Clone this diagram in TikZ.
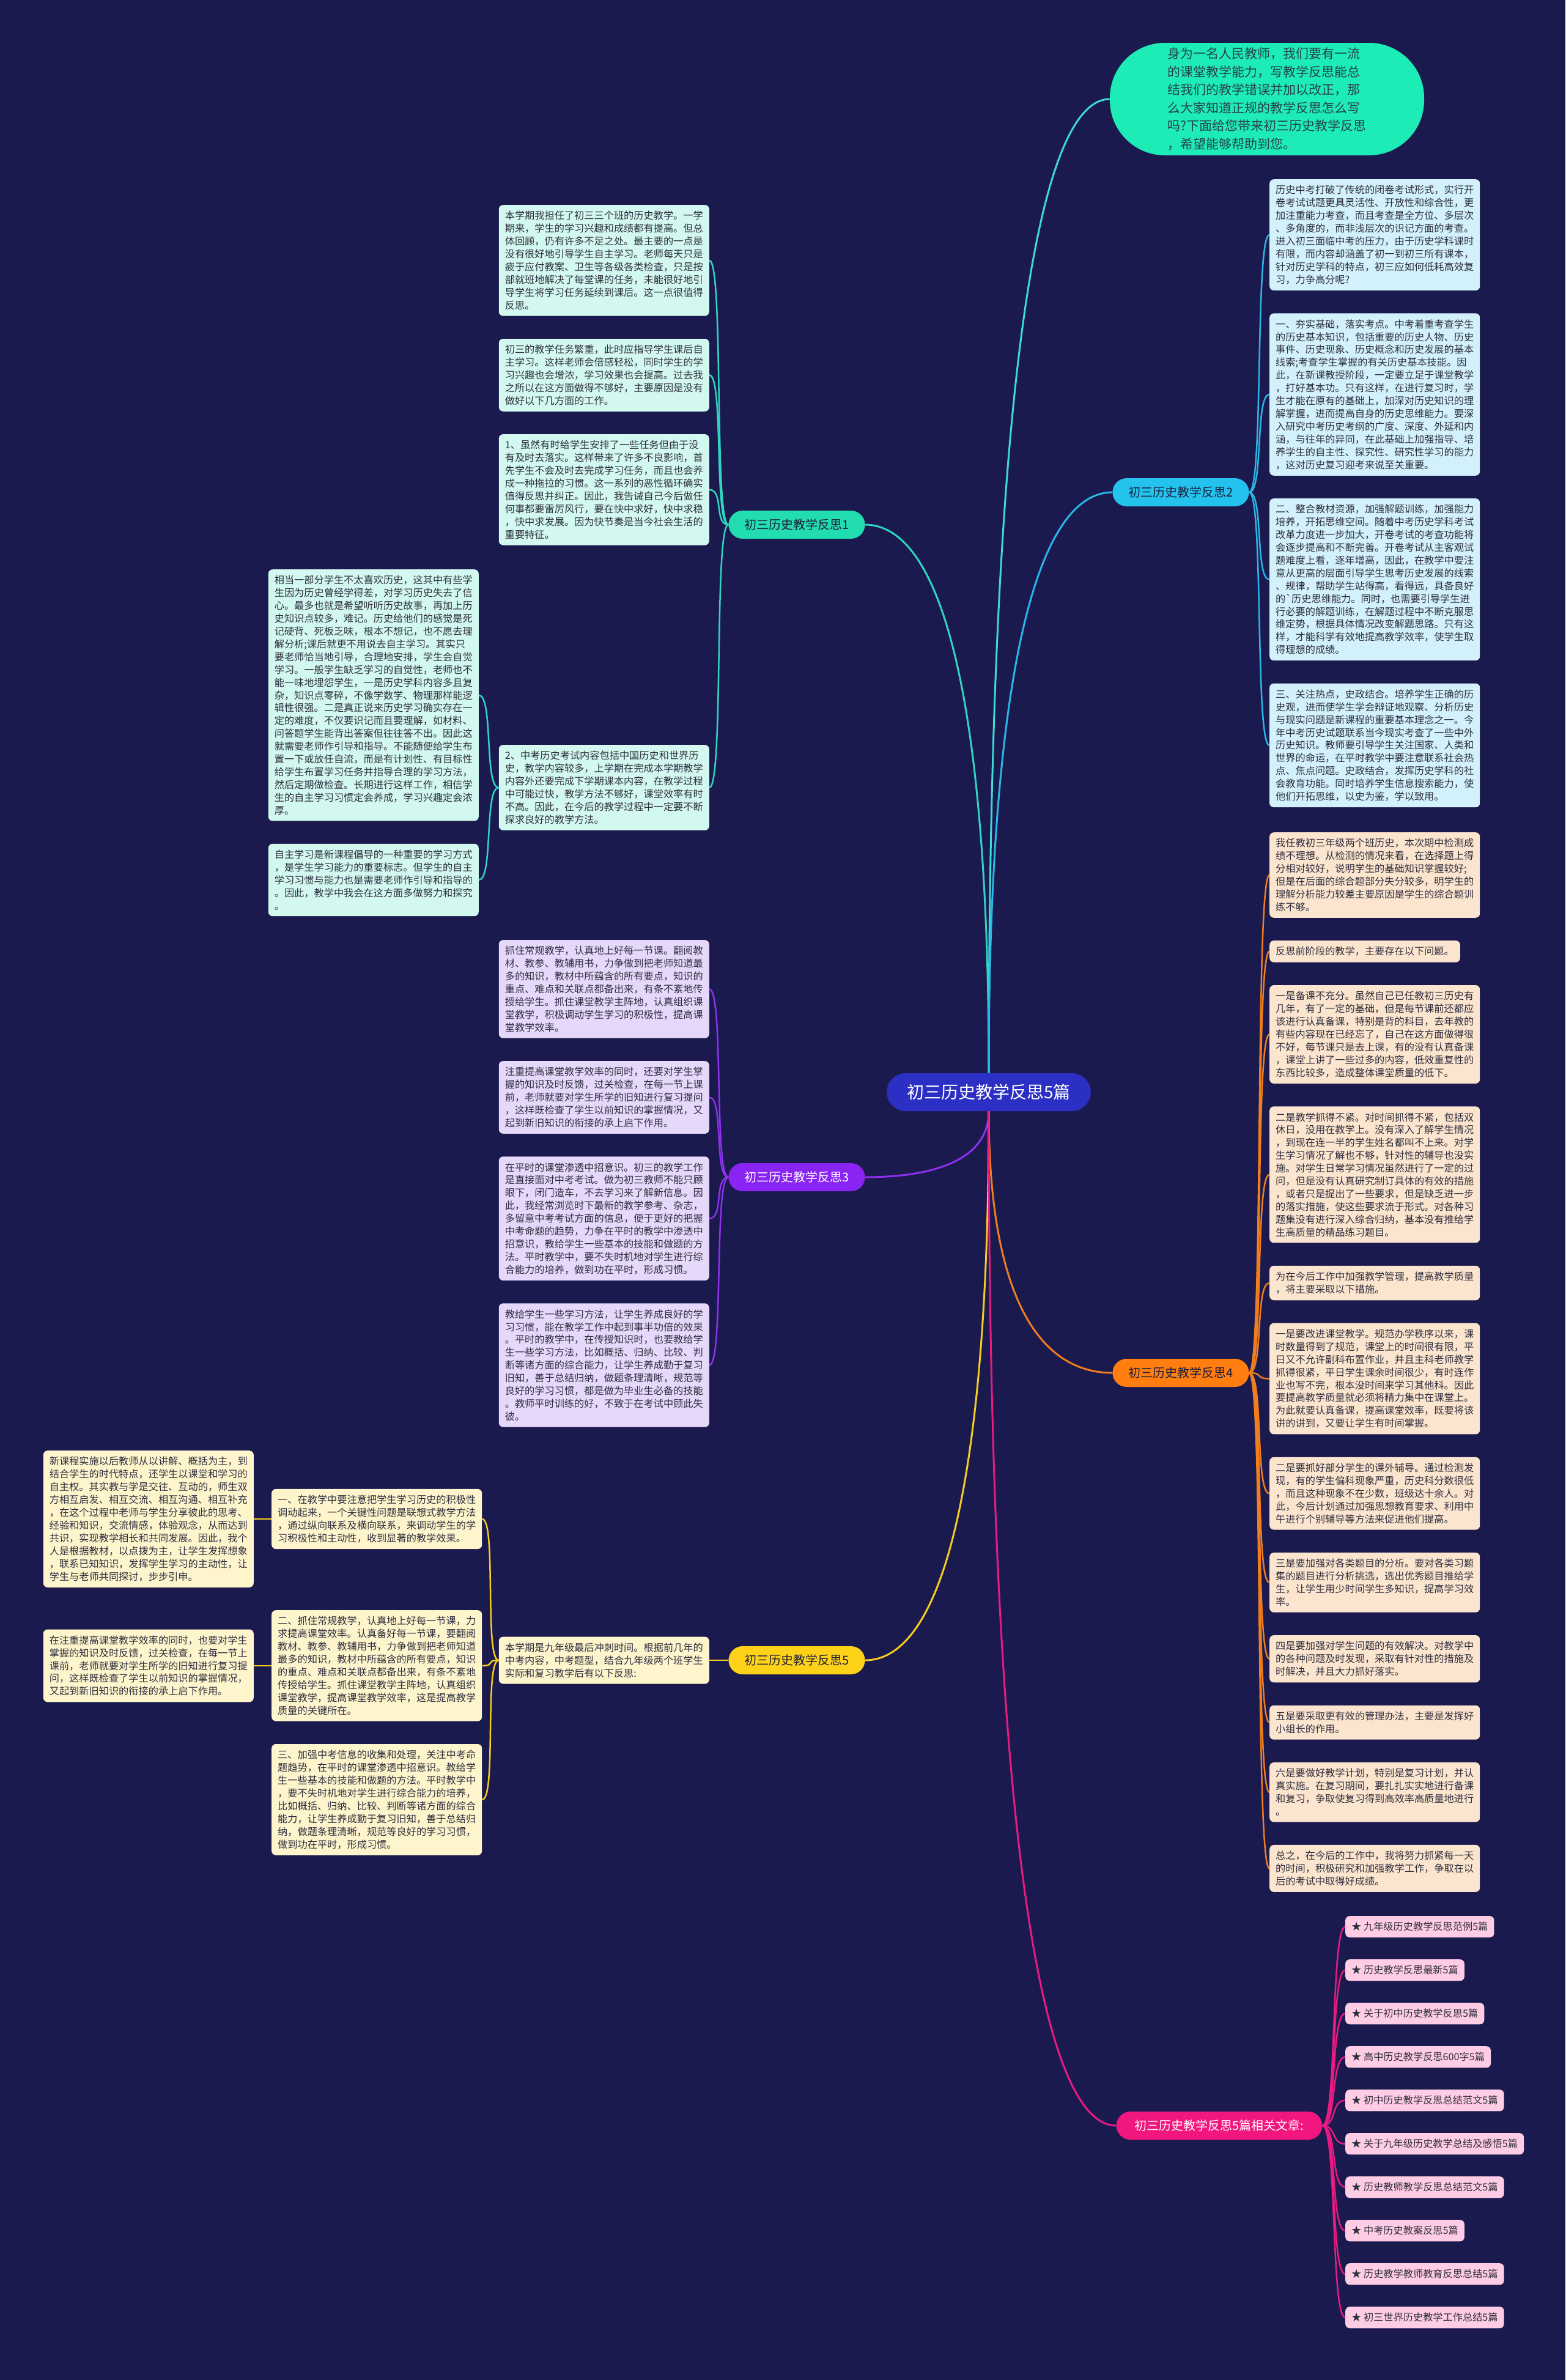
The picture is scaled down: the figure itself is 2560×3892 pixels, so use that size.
\documentclass[tikz,border=0pt]{standalone}
\usepackage{fontspec}
\setmainfont{Noto Sans CJK SC}
\usetikzlibrary{positioning,calc}
\definecolor{rfNavy} {HTML}{1B1A4F}
\definecolor{rfHub}  {HTML}{2B2FC4}
\definecolor{rfTip}  {HTML}{1EECB7}
\definecolor{rfTipInk}{HTML}{27414A}
\definecolor{rfInk}  {HTML}{2E2E3E}
\definecolor{rfDark} {HTML}{1E1E3C}
\definecolor{rfOne}  {HTML}{22DDB0}
\definecolor{rfTwo}  {HTML}{23C3EE}
\definecolor{rfThree}{HTML}{8A24F2}
\definecolor{rfFour} {HTML}{FF7E0F}
\definecolor{rfFive} {HTML}{FFD21A}
\definecolor{rfRel}  {HTML}{F2167F}
\definecolor{lnTip}  {HTML}{3DD9D6}
\definecolor{lnOne}  {HTML}{30D5C0}
\definecolor{lnTwo}  {HTML}{2AB6E6}
\definecolor{lnThree}{HTML}{8E30F0}
\definecolor{lnFour} {HTML}{F07E1E}
\definecolor{lnFive} {HTML}{F5CC1F}
\definecolor{lnRel}  {HTML}{E91A80}
\definecolor{fillOne}  {HTML}{D2F8F0}
\definecolor{fillTwo}  {HTML}{D2F1FA}
\definecolor{fillThree}{HTML}{E6D8FA}
\definecolor{fillFour} {HTML}{FCE5CE}
\definecolor{fillFive} {HTML}{FFF5CD}
\definecolor{fillRel}  {HTML}{FFCCE5}
\newcommand{\mapstem}[3]{%
  \path (#2|-#3) coordinate (knee);
  \draw[stemline,#1] (#2) .. controls ($(#2)!0.7!(knee)$) and ($(#3)!0.6!(knee)$) .. (#3);}
\newcommand{\twigleft}[3]{\draw[twigline,#1] (#2.west) .. controls +(-24,0) and +(24,0) .. (#3.east);}
\newcommand{\twigright}[3]{\draw[twigline,#1] (#2.east) .. controls +(24,0) and +(-24,0) .. (#3.west);}

\begin{document}
\begin{tikzpicture}[x=1pt,y=-1pt,
  card/.style={rounded corners=7pt,inner xsep=10pt,inner ysep=10pt,align=left,
    text=rfInk,font=\fontsize{16.2}{20.9}\selectfont},
  pill/.style={rounded corners=23pt,minimum height=46pt,inner xsep=26pt,inner ysep=0pt,
    text=rfDark,font=\fontsize{20}{24}\selectfont},
  stemline/.style={line width=3pt},
  twigline/.style={line width=2.5pt}]
  \useasboundingbox (0,0) rectangle (2560,3892);
  \fill[rfNavy] (0,0) rectangle (2560,3892);

  % centre and intro bubble
  \node[pill,fill=rfHub,text=white,rounded corners=31pt,minimum height=62pt,inner xsep=33pt,
        font=\fontsize{28}{32}\selectfont] (hub) at (1617,1786) {初三历史教学反思5篇};
  \node[fill=rfTip,text=rfTipInk,rounded corners=90pt,minimum width=514pt,minimum height=184pt,
        align=left,font=\fontsize{21}{29.5}\selectfont] (tip) at (2072,162) {身为一名人民教师，我们要有一流\\
    的课堂教学能力，写教学反思能总\\
    结我们的教学错误并加以改正，那\\
    么大家知道正规的教学反思怎么写\\
    吗?下面给您带来初三历史教学反思\\
    ，希望能够帮助到您。};

  % branch labels
  \node[pill,fill=rfOne] (one) at (1303,858) {初三历史教学反思1};
  \node[pill,fill=rfTwo] (two) at (1931,805) {初三历史教学反思2};
  \node[pill,fill=rfThree,text=white] (three) at (1303,1925) {初三历史教学反思3};
  \node[pill,fill=rfFour] (four) at (1931,2245) {初三历史教学反思4};
  \node[pill,fill=rfFive] (five) at (1303,2715) {初三历史教学反思5};
  \node[pill,fill=rfRel,text=white,inner xsep=30pt] (rel) at (1994,3476) {初三历史教学反思5篇相关文章:};

  % branch 1
  \node[card,fill=fillOne,anchor=north east] (l1a) at (1160,335) {本学期我担任了初三三个班的历史教学。一学\\
    期来，学生的学习兴趣和成绩都有提高。但总\\
    体回顾，仍有许多不足之处。最主要的一点是\\
    没有很好地引导学生自主学习。老师每天只是\\
    疲于应付教案、卫生等各级各类检查，只是按\\
    部就班地解决了每堂课的任务，未能很好地引\\
    导学生将学习任务延续到课后。这一点很值得\\
    反思。};
  \node[card,fill=fillOne,below=37pt of l1a.south east,anchor=north east] (l1b) {初三的教学任务繁重，此时应指导学生课后自\\
    主学习。这样老师会倍感轻松，同时学生的学\\
    习兴趣也会增浓，学习效果也会提高。过去我\\
    之所以在这方面做得不够好，主要原因是没有\\
    做好以下几方面的工作。};
  \node[card,fill=fillOne,below=37pt of l1b.south east,anchor=north east] (l1c) {1、虽然有时给学生安排了一些任务但由于没\\
    有及时去落实。这样带来了许多不良影响，首\\
    先学生不会及时去完成学习任务，而且也会养\\
    成一种拖拉的习惯。这一系列的恶性循环确实\\
    值得反思并纠正。因此，我告诫自己今后做任\\
    何事都要雷厉风行，要在快中求好，快中求稳\\
    ，快中求发展。因为快节奏是当今社会生活的\\
    重要特征。};
  \node[card,fill=fillOne,anchor=north east] (l1e) at (783,931) {相当一部分学生不太喜欢历史，这其中有些学\\
    生因为历史曾经学得差，对学习历史失去了信\\
    心。最多也就是希望听听历史故事，再加上历\\
    史知识点较多，难记。历史给他们的感觉是死\\
    记硬背、死板乏味，根本不想记，也不愿去理\\
    解分析;课后就更不用说去自主学习。其实只\\
    要老师恰当地引导，合理地安排，学生会自觉\\
    学习。一般学生缺乏学习的自觉性，老师也不\\
    能一味地埋怨学生，一是历史学科内容多且复\\
    杂，知识点零碎，不像学数学、物理那样能逻\\
    辑性很强。二是真正说来历史学习确实存在一\\
    定的难度，不仅要识记而且要理解，如材料、\\
    问答题学生能背出答案但往往答不出。因此这\\
    就需要老师作引导和指导。不能随便给学生布\\
    置一下或放任自流，而是有计划性、有目标性\\
    给学生布置学习任务并指导合理的学习方法，\\
    然后定期做检查。长期进行这样工作，相信学\\
    生的自主学习习惯定会养成，学习兴趣定会浓\\
    厚。};
  \node[card,fill=fillOne,below=37pt of l1e.south east,anchor=north east] (l1f) {自主学习是新课程倡导的一种重要的学习方式\\
    ，是学生学习能力的重要标志。但学生的自主\\
    学习习惯与能力也是需要老师作引导和指导的\\
    。因此，教学中我会在这方面多做努力和探究\\
    。};
  \node[card,fill=fillOne,anchor=east] (l1d) at ($(l1e.east)!0.5!(l1f.east)+(377,0)$) {2、中考历史考试内容包括中国历史和世界历\\
    史，教学内容较多，上学期在完成本学期教学\\
    内容外还要完成下学期课本内容，在教学过程\\
    中可能过快，教学方法不够好，课堂效率有时\\
    不高。因此，在今后的教学过程中一定要不断\\
    探求良好的教学方法。};

  % branch 2
  \node[card,fill=fillTwo,anchor=north west] (r2a) at (2076,293) {历史中考打破了传统的闭卷考试形式，实行开\\
    卷考试试题更具灵活性、开放性和综合性，更\\
    加注重能力考查，而且考查是全方位、多层次\\
    、多角度的，而非浅层次的识记方面的考查。\\
    进入初三面临中考的压力，由于历史学科课时\\
    有限，而内容却涵盖了初一到初三所有课本，\\
    针对历史学科的特点，初三应如何低耗高效复\\
    习，力争高分呢?};
  \node[card,fill=fillTwo,below=37pt of r2a.south west,anchor=north west] (r2b) {一、夯实基础，落实考点。中考着重考查学生\\
    的历史基本知识，包括重要的历史人物、历史\\
    事件、历史现象、历史概念和历史发展的基本\\
    线索;考查学生掌握的有关历史基本技能。因\\
    此，在新课教授阶段，一定要立足于课堂教学\\
    ，打好基本功。只有这样，在进行复习时，学\\
    生才能在原有的基础上，加深对历史知识的理\\
    解掌握，进而提高自身的历史思维能力。要深\\
    入研究中考历史考纲的广度、深度、外延和内\\
    涵，与往年的异同，在此基础上加强指导、培\\
    养学生的自主性、探究性、研究性学习的能力\\
    ，这对历史复习迎考来说至关重要。};
  \node[card,fill=fillTwo,below=37pt of r2b.south west,anchor=north west] (r2c) {二、整合教材资源，加强解题训练，加强能力\\
    培养，开拓思维空间。随着中考历史学科考试\\
    改革力度进一步加大，开卷考试的考查功能将\\
    会逐步提高和不断完善。开卷考试从主客观试\\
    题难度上看，逐年增高，因此，在教学中要注\\
    意从更高的层面引导学生思考历史发展的线索\\
    、规律，帮助学生站得高，看得远，具备良好\\
    的\textasciigrave 历史思维能力。同时，也需要引导学生进\\
    行必要的解题训练，在解题过程中不断克服思\\
    维定势，根据具体情况改变解题思路。只有这\\
    样，才能科学有效地提高教学效率，使学生取\\
    得理想的成绩。};
  \node[card,fill=fillTwo,below=37pt of r2c.south west,anchor=north west] (r2d) {三、关注热点，史政结合。培养学生正确的历\\
    史观，进而使学生学会辩证地观察、分析历史\\
    与现实问题是新课程的重要基本理念之一。今\\
    年中考历史试题联系当今现实考查了一些中外\\
    历史知识。教师要引导学生关注国家、人类和\\
    世界的命运，在平时教学中要注意联系社会热\\
    点、焦点问题。史政结合，发挥历史学科的社\\
    会教育功能。同时培养学生信息搜索能力，使\\
    他们开拓思维，以史为鉴，学以致用。};

  % branch 3
  \node[card,fill=fillThree,anchor=north east] (l3a) at (1160,1537) {抓住常规教学，认真地上好每一节课。翻阅教\\
    材、教参、教辅用书，力争做到把老师知道最\\
    多的知识，教材中所蕴含的所有要点，知识的\\
    重点、难点和关联点都备出来，有条不紊地传\\
    授给学生。抓住课堂教学主阵地，认真组织课\\
    堂教学，积极调动学生学习的积极性，提高课\\
    堂教学效率。};
  \node[card,fill=fillThree,below=37pt of l3a.south east,anchor=north east] (l3b) {注重提高课堂教学效率的同时，还要对学生掌\\
    握的知识及时反馈，过关检查，在每一节上课\\
    前，老师就要对学生所学的旧知进行复习提问\\
    ，这样既检查了学生以前知识的掌握情况，又\\
    起到新旧知识的衔接的承上启下作用。};
  \node[card,fill=fillThree,below=37pt of l3b.south east,anchor=north east] (l3c) {在平时的课堂渗透中招意识。初三的教学工作\\
    是直接面对中考考试。做为初三教师不能只顾\\
    眼下，闭门造车，不去学习来了解新信息。因\\
    此，我经常浏览时下最新的教学参考、杂志，\\
    多留意中考考试方面的信息，便于更好的把握\\
    中考命题的趋势，力争在平时的教学中渗透中\\
    招意识，教给学生一些基本的技能和做题的方\\
    法。平时教学中，要不失时机地对学生进行综\\
    合能力的培养，做到功在平时，形成习惯。};
  \node[card,fill=fillThree,below=37pt of l3c.south east,anchor=north east] (l3d) {教给学生一些学习方法，让学生养成良好的学\\
    习习惯，能在教学工作中起到事半功倍的效果\\
    。平时的教学中，在传授知识时，也要教给学\\
    生一些学习方法，比如概括、归纳、比较、判\\
    断等诸方面的综合能力，让学生养成勤于复习\\
    旧知，善于总结归纳，做题条理清晰，规范等\\
    良好的学习习惯，都是做为毕业生必备的技能\\
    。教师平时训练的好，不致于在考试中顾此失\\
    彼。};

  % branch 4
  \node[card,fill=fillFour,anchor=north west] (r4a) at (2076,1361) {我任教初三年级两个班历史，本次期中检测成\\
    绩不理想。从检测的情况来看，在选择题上得\\
    分相对较好，说明学生的基础知识掌握较好;\\
    但是在后面的综合题部分失分较多，明学生的\\
    理解分析能力较差主要原因是学生的综合题训\\
    练不够。};
  \node[card,fill=fillFour,below=37pt of r4a.south west,anchor=north west] (r4b) {反思前阶段的教学，主要存在以下问题。};
  \node[card,fill=fillFour,below=37pt of r4b.south west,anchor=north west] (r4c) {一是备课不充分。虽然自己已任教初三历史有\\
    几年，有了一定的基础，但是每节课前还都应\\
    该进行认真备课，特别是背的科目，去年教的\\
    有些内容现在已经忘了，自己在这方面做得很\\
    不好，每节课只是去上课，有的没有认真备课\\
    ，课堂上讲了一些过多的内容，低效重复性的\\
    东西比较多，造成整体课堂质量的低下。};
  \node[card,fill=fillFour,below=37pt of r4c.south west,anchor=north west] (r4d) {二是教学抓得不紧。对时间抓得不紧，包括双\\
    休日，没用在教学上。没有深入了解学生情况\\
    ，到现在连一半的学生姓名都叫不上来。对学\\
    生学习情况了解也不够，针对性的辅导也没实\\
    施。对学生日常学习情况虽然进行了一定的过\\
    问，但是没有认真研究制订具体的有效的措施\\
    ，或者只是提出了一些要求，但是缺乏进一步\\
    的落实措施，使这些要求流于形式。对各种习\\
    题集没有进行深入综合归纳，基本没有推给学\\
    生高质量的精品练习题目。};
  \node[card,fill=fillFour,below=37pt of r4d.south west,anchor=north west] (r4e) {为在今后工作中加强教学管理，提高教学质量\\
    ，将主要采取以下措施。};
  \node[card,fill=fillFour,below=37pt of r4e.south west,anchor=north west] (r4f) {一是要改进课堂教学。规范办学秩序以来，课\\
    时数量得到了规范，课堂上的时间很有限，平\\
    日又不允许副科布置作业，并且主科老师教学\\
    抓得很紧，平日学生课余时间很少，有时连作\\
    业也写不完，根本没时间来学习其他科。因此\\
    要提高教学质量就必须将精力集中在课堂上。\\
    为此就要认真备课，提高课堂效率，既要将该\\
    讲的讲到，又要让学生有时间掌握。};
  \node[card,fill=fillFour,below=37pt of r4f.south west,anchor=north west] (r4g) {二是要抓好部分学生的课外辅导。通过检测发\\
    现，有的学生偏科现象严重，历史科分数很低\\
    ，而且这种现象不在少数，班级达十余人。对\\
    此，今后计划通过加强思想教育要求、利用中\\
    午进行个别辅导等方法来促进他们提高。};
  \node[card,fill=fillFour,below=37pt of r4g.south west,anchor=north west] (r4h) {三是要加强对各类题目的分析。要对各类习题\\
    集的题目进行分析挑选，选出优秀题目推给学\\
    生，让学生用少时间学生多知识，提高学习效\\
    率。};
  \node[card,fill=fillFour,below=37pt of r4h.south west,anchor=north west] (r4i) {四是要加强对学生问题的有效解决。对教学中\\
    的各种问题及时发现，采取有针对性的措施及\\
    时解决，并且大力抓好落实。};
  \node[card,fill=fillFour,below=37pt of r4i.south west,anchor=north west] (r4j) {五是要采取更有效的管理办法，主要是发挥好\\
    小组长的作用。};
  \node[card,fill=fillFour,below=37pt of r4j.south west,anchor=north west] (r4k) {六是要做好教学计划，特别是复习计划，并认\\
    真实施。在复习期间，要扎扎实实地进行备课\\
    和复习，争取使复习得到高效率高质量地进行\\
    。};
  \node[card,fill=fillFour,below=37pt of r4k.south west,anchor=north west] (r4l) {总之，在今后的工作中，我将努力抓紧每一天\\
    的时间，积极研究和加强教学工作，争取在以\\
    后的考试中取得好成绩。};

  % branch 5
  \node[card,fill=fillFive,anchor=east] (l5a) at (1160,2715) {本学期是九年级最后冲刺时间。根据前几年的\\
    中考内容，中考题型，结合九年级两个班学生\\
    实际和复习教学后有以下反思:};
  \node[card,fill=fillFive,anchor=north east] (l5e) at (415,2372) {新课程实施以后教师从以讲解、概括为主，到\\
    结合学生的时代特点，还学生以课堂和学习的\\
    自主权。其实教与学是交往、互动的，师生双\\
    方相互启发、相互交流、相互沟通、相互补充\\
    ，在这个过程中老师与学生分享彼此的思考、\\
    经验和知识，交流情感，体验观念，从而达到\\
    共识，实现教学相长和共同发展。因此，我个\\
    人是根据教材，以点拨为主，让学生发挥想象\\
    ，联系已知知识，发挥学生学习的主动性，让\\
    学生与老师共同探讨，步步引申。};
  \node[card,fill=fillFive,right=29pt of l5e] (l5b) {一、在教学中要注意把学生学习历史的积极性\\
    调动起来，一个关键性问题是联想式教学方法\\
    ，通过纵向联系及横向联系，来调动学生的学\\
    习积极性和主动性，收到显著的教学效果。};
  \path (l5b.east |- l5e.south) ++(0,37) coordinate (l5cTop);
  \node[card,fill=fillFive,anchor=north east] (l5c) at (l5cTop) {二、抓住常规教学，认真地上好每一节课，力\\
    求提高课堂效率。认真备好每一节课，要翻阅\\
    教材、教参、教辅用书，力争做到把老师知道\\
    最多的知识，教材中所蕴含的所有要点，知识\\
    的重点、难点和关联点都备出来，有条不紊地\\
    传授给学生。抓住课堂教学主阵地，认真组织\\
    课堂教学，提高课堂教学效率，这是提高教学\\
    质量的关键所在。};
  \node[card,fill=fillFive,left=29pt of l5c] (l5f) {在注重提高课堂教学效率的同时，也要对学生\\
    掌握的知识及时反馈，过关检查，在每一节上\\
    课前，老师就要对学生所学的旧知进行复习提\\
    问，这样既检查了学生以前知识的掌握情况，\\
    又起到新旧知识的衔接的承上启下作用。};
  \node[card,fill=fillFive,below=37pt of l5c.south east,anchor=north east] (l5d) {三、加强中考信息的收集和处理，关注中考命\\
    题趋势，在平时的课堂渗透中招意识。教给学\\
    生一些基本的技能和做题的方法。平时教学中\\
    ，要不失时机地对学生进行综合能力的培养，\\
    比如概括、归纳、比较、判断等诸方面的综合\\
    能力，让学生养成勤于复习旧知，善于总结归\\
    纳，做题条理清晰，规范等良好的学习习惯，\\
    做到功在平时，形成习惯。};

  % related articles
  \node[card,fill=fillRel,anchor=north west] (q1) at (2200,3133) {★ 九年级历史教学反思范例5篇};
  \node[card,fill=fillRel,below=35.5pt of q1.south west,anchor=north west] (q2) {★ 历史教学反思最新5篇};
  \node[card,fill=fillRel,below=35.5pt of q2.south west,anchor=north west] (q3) {★ 关于初中历史教学反思5篇};
  \node[card,fill=fillRel,below=35.5pt of q3.south west,anchor=north west] (q4) {★ 高中历史教学反思600字5篇};
  \node[card,fill=fillRel,below=35.5pt of q4.south west,anchor=north west] (q5) {★ 初中历史教学反思总结范文5篇};
  \node[card,fill=fillRel,below=35.5pt of q5.south west,anchor=north west] (q6) {★ 关于九年级历史教学总结及感悟5篇};
  \node[card,fill=fillRel,below=35.5pt of q6.south west,anchor=north west] (q7) {★ 历史教师教学反思总结范文5篇};
  \node[card,fill=fillRel,below=35.5pt of q7.south west,anchor=north west] (q8) {★ 中考历史教案反思5篇};
  \node[card,fill=fillRel,below=35.5pt of q8.south west,anchor=north west] (q9) {★ 历史教学教师教育反思总结5篇};
  \node[card,fill=fillRel,below=35.5pt of q9.south west,anchor=north west] (q10) {★ 初三世界历史教学工作总结5篇};

  % connectors
  \mapstem{lnTip}{hub.north}{tip.west}
  \mapstem{lnOne}{hub.north}{one.east}
  \mapstem{lnTwo}{hub.north}{two.west}
  \mapstem{lnThree}{hub.south}{three.east}
  \mapstem{lnFour}{hub.south}{four.west}
  \mapstem{lnFive}{hub.south}{five.east}
  \mapstem{lnRel}{hub.south}{rel.west}
  \foreach \c in {l1a,l1b,l1c,l1d} {\twigleft{lnOne}{one}{\c}}
  \foreach \c in {l1e,l1f} {\twigleft{lnOne}{l1d}{\c}}
  \foreach \c in {r2a,r2b,r2c,r2d} {\twigright{lnTwo}{two}{\c}}
  \foreach \c in {l3a,l3b,l3c,l3d} {\twigleft{lnThree}{three}{\c}}
  \foreach \c in {r4a,r4b,r4c,r4d,r4e,r4f,r4g,r4h,r4i,r4j,r4k,r4l} {\twigright{lnFour}{four}{\c}}
  \twigleft{lnFive}{five}{l5a}
  \foreach \c in {l5b,l5c,l5d} {\twigleft{lnFive}{l5a}{\c}}
  \twigleft{lnFive}{l5b}{l5e}
  \twigleft{lnFive}{l5c}{l5f}
  \foreach \c in {q1,q2,q3,q4,q5,q6,q7,q8,q9,q10} {\twigright{lnRel}{rel}{\c}}
\end{tikzpicture}
\end{document}
